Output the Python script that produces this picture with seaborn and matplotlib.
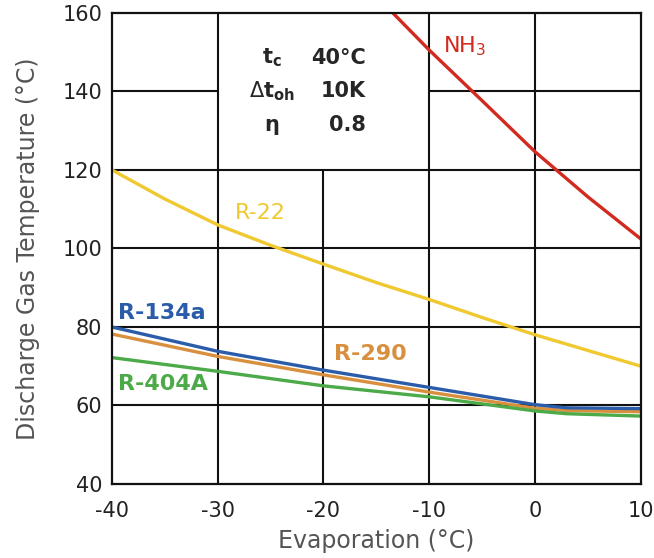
import pandas as pd
import matplotlib.pyplot as plt
import seaborn as sns

# Curves
evap_r22 = [-40, -35, -30, -25, -20, -15, -10, -5, 0, 5, 10]
r22 = [120, 112.6, 106, 100.8, 96, 91.3, 87, 82.4, 78, 74, 70]

evap = [-40, -30, -20, -10, 0, 3, 10]
r134a = [80, 73.8, 69, 64.6, 60.2, 59.4, 59.2]
r290 = [78.2, 72.5, 67.8, 63.4, 59.3, 58.7, 58.4]
r404a = [72.2, 68.7, 65, 62.2, 58.6, 57.9, 57.3]

evap_nh3 = [-14, -10, -5, 0, 5, 10]
nh3 = [161.5, 150.5, 137.6, 124.6, 113.1, 102.4]

colores = {
    "NH3": "#d22a1e",
    "R-22": "#f0c830",
    "R-134a": "#2a5caa",
    "R-290": "#d8903e",
    "R-404A": "#4caa48",
}

filas = []
for nombre, xs, ys in [("NH3", evap_nh3, nh3), ("R-22", evap_r22, r22),
                       ("R-290", evap, r290), ("R-404A", evap, r404a),
                       ("R-134a", evap, r134a)]:
    for x, y in zip(xs, ys):
        filas.append({"Evaporation": x, "Temp": y, "Refrigerante": nombre})
df = pd.DataFrame(filas)

sns.set_style("white")
plt.rcParams['font.family'] = ['DejaVu Sans']
plt.rcParams['axes.unicode_minus'] = False

fig = plt.figure(figsize=(6.54, 5.58), dpi=100)
ax = fig.add_axes([0.171, 0.1326, 0.809, 0.8444])

# Rejilla con hueco para el cuadro de condiciones
for xv in [-30, -10, 0]:
    ax.axvline(xv, color="#111111", lw=1.5, zorder=1)
ax.axvline(-20, ymax=(120 - 40) / 120, color="#111111", lw=1.5, zorder=1)
for yv in [120, 100, 80, 60]:
    ax.axhline(yv, color="#111111", lw=1.5, zorder=1)
ax.axhline(140, xmax=0.2, color="#111111", lw=1.5, zorder=1)
ax.axhline(140, xmin=0.6, color="#111111", lw=1.5, zorder=1)

sns.lineplot(data=df, x="Evaporation", y="Temp", hue="Refrigerante",
             palette=colores, linewidth=2.4, legend=False, ax=ax, zorder=3)

ax.set_xlim(-40, 10)
ax.set_ylim(40, 160)
ax.set_xticks([-40, -30, -20, -10, 0, 10])
ax.set_yticks([40, 60, 80, 100, 120, 140, 160])
ax.tick_params(axis="y", labelsize=15, labelcolor="#222222", length=0, pad=7)
ax.tick_params(axis="x", labelsize=15, labelcolor="#222222", length=0, pad=12)
for s in ax.spines.values():
    s.set_color("#111111")
    s.set_linewidth(1.6)
    s.set_zorder(4)

ax.set_xlabel("Evaporation (°C)", fontsize=17, color="#555555", labelpad=6)
ax.set_ylabel("Discharge Gas Temperature (°C)", fontsize=17, color="#555555", labelpad=16)

# Etiquetas de las curvas
ax.text(-8.7, 151.5, "NH$_3$", color=colores["NH3"], fontsize=16, va="center")
ax.text(-28.4, 109, "R-22", color=colores["R-22"], fontsize=16, va="center")
ax.text(-39.4, 83.5, "R-134a", color=colores["R-134a"], fontsize=16,
        fontweight="bold", va="center")
ax.text(-19.0, 73, "R-290", color=colores["R-290"], fontsize=16,
        fontweight="bold", va="center")
ax.text(-39.4, 65.5, "R-404A", color=colores["R-404A"], fontsize=16,
        fontweight="bold", va="center")

# Cuadro de condiciones
cond_izq = ["t$_\\mathregular{c}$", "$\\Delta$t$_\\mathregular{oh}$", "η"]
cond_der = ["40°C", "10K", "0.8"]
cond_y = [148.5, 140, 131.5]
for izq, der, yy in zip(cond_izq, cond_der, cond_y):
    ax.text(-24.9, yy, izq, fontsize=15, fontweight="bold", ha="center", va="center")
    ax.text(-16.0, yy, der, fontsize=15, fontweight="bold", ha="right", va="center")

fig.savefig("out.png", dpi=100)
